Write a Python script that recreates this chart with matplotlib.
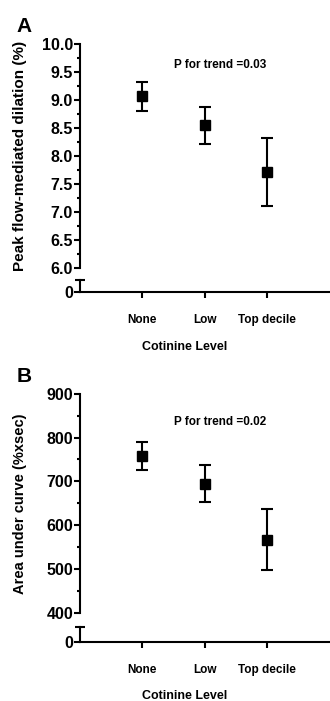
import numpy as np
import matplotlib
matplotlib.use("Agg")
import matplotlib.pyplot as plt
from matplotlib.ticker import MultipleLocator, FixedLocator

plt.rcParams['font.family'] = ['Liberation Sans', 'DejaVu Sans']
plt.rcParams['font.weight'] = 'bold'

# Data
categories = ["None", "Low", "Top decile"]
fmd_mean = [9.07, 8.55, 7.72]
fmd_err = [0.26, 0.33, 0.61]
auc_mean = [757, 695, 567]
auc_err = [32, 42, 69]
p_text_a = "P for trend =0.03"
p_text_b = "P for trend =0.02"

W, H = 330, 701
fig = plt.figure(figsize=(W / 100, H / 100), dpi=100)


def frac_box(left, right, top, bottom):
    # pixel box -> figure fraction
    return [left / W, 1 - bottom / H, (right - left) / W, (bottom - top) / H]


def panel(top, bottom, brk_top, brk_bot, ylim, major, minor, means, errs,
          ylabel, ylab_size, ptext, py, letter, letter_y, xlab_y):
    ax = fig.add_axes(frac_box(80, 329, top, bottom))
    low = fig.add_axes(frac_box(80, 329, brk_top, brk_bot))
    x = np.arange(1, len(categories) + 1)

    # main (broken) axis
    ax.errorbar(x, means, yerr=errs, fmt='s', color='black', ms=7.2,
                elinewidth=1.5, capsize=4, capthick=1.5, clip_on=False)
    ax.set_xlim(0, 4)
    ax.set_ylim(*ylim)
    for s in ['top', 'right', 'bottom']:
        ax.spines[s].set_visible(False)
    ax.spines['left'].set_linewidth(1.5)
    ax.set_xticks([])
    ax.yaxis.set_major_locator(MultipleLocator(major))
    ax.yaxis.set_minor_locator(MultipleLocator(minor))
    ax.tick_params(axis='y', which='major', length=4, width=1.5, pad=1,
                   labelsize=11.5)
    ax.tick_params(axis='y', which='minor', length=2.5, width=1.5)
    if major < 1:
        ax.set_yticklabels([f"{v:.1f}" for v in ax.get_yticks()])
    ax.set_ylabel(ylabel, fontsize=ylab_size, fontweight='bold')
    ax.yaxis.set_label_coords(-0.213, 0.5)
    ax.text(2.25, py, ptext, ha='center', va='center', fontsize=8.5,
            fontweight='bold')

    # lower segment with zero and the x axis
    low.set_xlim(0, 4)
    low.set_ylim(0, 1)
    for s in ['top', 'right']:
        low.spines[s].set_visible(False)
    low.spines['left'].set_linewidth(1.5)
    low.spines['bottom'].set_linewidth(1.5)
    low.set_yticks([0])
    low.set_yticklabels(["0"])
    low.yaxis.set_minor_locator(FixedLocator([1]))
    low.tick_params(axis='y', which='major', length=4, width=1.5, pad=1,
                    labelsize=11.5)
    low.tick_params(axis='y', which='minor', direction='inout', length=7,
                    width=1.5)
    low.set_xticks(x)
    low.set_xticklabels(categories)
    low.tick_params(axis='x', length=4, width=1.5, pad=12, labelsize=8.5)
    low.set_xlabel("Cotinine Level", fontsize=9, fontweight='bold')
    lab_y = (brk_bot - xlab_y) / (brk_bot - brk_top)
    low.xaxis.set_label_coords((185 - 80) / 249, lab_y)
    low.xaxis.label.set_verticalalignment('center')

    fig.text(24 / W, 1 - letter_y / H, letter, ha='center', va='center',
             fontsize=15, fontweight='bold')


panel(44, 268, 280, 292, (6, 10), 0.5, 0.25, fmd_mean, fmd_err,
      "Peak flow-mediated dilation (%)", 11, p_text_a, 9.62, "A", 26, 347)
panel(393.7, 613, 626.5, 641.5, (400, 900), 100, 50, auc_mean, auc_err,
      "Area under curve (%xsec)", 10.5, p_text_b, 835, "B", 376, 696)

fig.savefig("out.png", dpi=100)
